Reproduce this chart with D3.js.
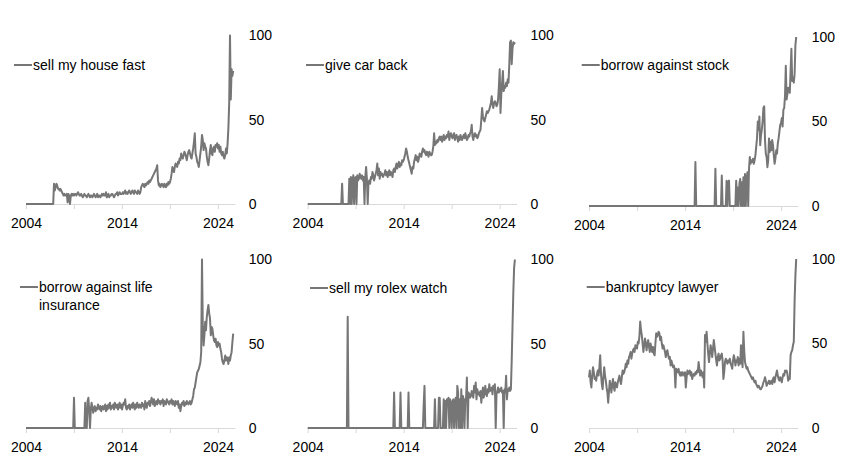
<!DOCTYPE html>
<html><head><meta charset="utf-8">
<script src="https://cdn.jsdelivr.net/npm/d3@7"></script>
<style>body{margin:0;background:#fff}</style>
</head><body><svg id="c" width="845" height="465"></svg>
<script>
// ---- data (monthly, Jan 2004 .. Aug 2025) ----
const startYear = 2004;
const yearTicks = [2004, 2009, 2014, 2019, 2024];
const yearLabels = [2004, 2014, 2024];
const valueTicks = [0, 50, 100];

const titleHouse = ["sell my house fast"];
const titleCar = ["give car back"];
const titleStock = ["borrow against stock"];
const titleLife = ["borrow against life", "insurance"];
const titleRolex = ["sell my rolex watch"];
const titleLawyer = ["bankruptcy lawyer"];

const house = [
0,0,0,0,0,0,0,0,0,0,0,0,
0,0,0,0,0,0,0,0,0,0,0,0,
0,0,0,0,0,0,0,0,0,0,0,12,
8,10,12,11,9,9,8,9,8,7,6,5,
6,5,5,6,1,6,5,0,5,6,5,6,
5,6,6,5,6,7,6,5,5,6,5,4,
5,6,5,5,4,5,6,5,4,5,5,4,
5,6,5,4,5,6,4,5,5,4,5,6,
5,6,5,5,7,4,5,6,4,5,5,6,
6,5,4,5,6,6,7,5,6,7,6,6,
6,7,6,7,8,6,7,6,7,8,7,6,
7,8,7,6,8,7,7,6,8,7,6,7,
10,11,12,11,10,12,11,12,13,12,14,13,
14,15,16,17,18,19,20,21,23,14,11,12,
10,11,12,11,10,12,11,10,12,11,13,12,
13,15,18,22,20,19,22,24,23,22,25,24,
27,26,30,28,27,29,31,30,28,26,29,31,
32,30,28,27,30,33,37,42,30,28,25,24,
22,26,30,34,41,38,32,36,34,33,28,25,
23,27,32,35,30,29,33,34,31,35,34,36,
33,35,31,34,30,29,31,28,27,29,33,30,
36,45,60,100,62,80,76,79];

const car = [
0,0,0,0,0,0,0,0,0,0,0,0,
0,0,0,0,0,0,0,0,0,0,0,0,
0,0,0,0,0,0,0,0,0,0,0,0,
0,0,0,0,0,0,0,12,0,0,0,0,
0,0,0,0,15,0,16,0,14,17,0,15,
16,0,17,14,15,18,16,15,17,14,16,0,
16,22,15,0,13,14,12,16,15,19,17,14,
16,18,20,24,17,21,15,19,17,18,16,17,
18,20,17,19,16,18,20,17,19,18,16,20,
21,19,22,24,21,23,25,22,24,23,26,25,
26,28,30,33,31,28,26,24,22,20,18,22,
21,25,27,29,26,28,25,27,30,29,28,31,
33,31,32,30,29,31,30,28,31,30,29,29,
31,34,42,35,37,36,38,37,39,40,38,40,
37,39,41,38,40,39,41,40,43,38,41,42,
40,39,41,42,38,40,41,39,37,40,38,41,
39,38,40,41,39,42,40,38,39,41,40,42,
43,47,40,38,41,42,40,41,39,40,42,43,
44,50,57,52,50,49,51,53,55,54,55,56,
58,60,64,59,57,60,61,60,58,59,62,70,
80,54,65,72,79,67,70,69,72,70,74,72,
83,96,97,83,92,96,95,96];

const stock = [
0,0,0,0,0,0,0,0,0,0,0,0,
0,0,0,0,0,0,0,0,0,0,0,0,
0,0,0,0,0,0,0,0,0,0,0,0,
0,0,0,0,0,0,0,0,0,0,0,0,
0,0,0,0,0,0,0,0,0,0,0,0,
0,0,0,0,0,0,0,0,0,0,0,0,
0,0,0,0,0,0,0,0,0,0,0,0,
0,0,0,0,0,0,0,0,0,0,0,0,
0,0,0,0,0,0,0,0,0,0,0,0,
0,0,0,0,0,0,0,0,0,0,0,0,
0,0,0,0,0,0,0,0,0,0,0,0,
0,26,0,0,0,0,0,0,0,0,0,0,
0,0,0,0,0,0,0,0,0,0,0,0,
0,0,22,0,0,0,0,0,0,0,18,0,
0,0,0,0,15,0,14,15,0,0,0,0,
0,0,0,0,15,0,11,0,13,16,0,14,
0,17,0,19,0,15,20,0,22,29,25,27,
26,28,25,27,30,35,40,50,45,53,36,42,
45,50,58,59,39,31,29,23,27,40,32,38,
33,39,36,30,25,28,33,31,37,40,44,48,
49,52,47,57,58,65,83,63,66,70,68,67,
80,93,74,76,73,78,95,100];

const life = [
0,0,0,0,0,0,0,0,0,0,0,0,
0,0,0,0,0,0,0,0,0,0,0,0,
0,0,0,0,0,0,0,0,0,0,0,0,
0,0,0,0,0,0,0,0,0,0,0,0,
0,0,0,0,0,0,0,0,0,0,0,0,
18,0,0,0,0,0,0,0,0,0,0,0,
0,0,15,0,0,16,18,10,0,11,15,12,
9,12,13,10,12,11,14,12,11,13,10,12,
13,11,12,14,10,13,11,14,12,15,11,13,
12,14,11,15,13,12,14,11,13,15,12,14,
11,13,15,14,17,12,11,13,12,14,11,13,
14,12,15,13,11,14,12,15,13,12,14,13,
12,15,13,14,11,16,13,12,15,14,16,13,
15,18,16,14,17,13,15,16,14,17,15,16,
14,16,15,17,13,16,15,14,17,16,15,14,
16,15,17,14,16,15,13,16,15,14,16,12,
14,10,13,15,14,16,13,15,14,16,15,14,
15,16,14,15,17,19,23,24,27,30,33,34,
35,37,39,45,100,60,49,55,63,58,66,70,
73,68,65,55,60,59,55,52,51,53,49,48,
51,49,50,47,45,41,39,38,40,43,40,42,
41,38,42,40,43,45,51,56];

const rolex = [
0,0,0,0,0,0,0,0,0,0,0,0,
0,0,0,0,0,0,0,0,0,0,0,0,
0,0,0,0,0,0,0,0,0,0,0,0,
0,0,0,0,0,0,0,0,0,0,0,0,
0,0,66,0,0,0,0,0,0,0,0,0,
0,0,0,0,0,0,0,0,0,0,0,0,
0,0,0,0,0,0,0,0,0,0,0,0,
0,0,0,0,0,0,0,0,0,0,0,0,
0,0,0,0,0,0,0,0,0,0,0,0,
21,0,0,0,0,0,0,0,21,0,0,0,
0,0,0,0,0,0,21,0,0,0,0,0,
0,0,0,0,0,0,0,0,0,0,0,0,
0,14,25,0,0,0,0,0,0,0,0,0,
0,0,0,17,0,0,0,0,18,18,0,0,
0,0,17,0,16,0,17,15,18,0,17,14,
0,16,17,0,15,18,0,25,21,0,17,0,
23,0,19,16,0,17,18,30,0,21,20,18,
19,22,20,18,25,21,27,17,23,20,21,19,
22,15,20,24,18,21,25,20,19,23,21,26,
22,23,24,20,25,23,26,0,20,22,24,21,
23,22,24,21,22,0,23,21,31,17,23,22,
24,22,23,40,60,80,95,100];

const lawyer = [
30,34,27,24,31,36,33,29,30,28,32,34,
31,36,43,32,26,23,30,36,31,28,24,21,
15,22,28,25,21,26,29,24,22,27,25,24,
27,29,31,28,26,30,34,32,33,35,38,36,
40,38,42,43,45,41,44,46,47,45,49,48,
47,51,50,54,63,58,55,50,45,49,53,50,
46,50,52,48,45,50,47,45,48,44,43,50,
56,54,55,57,56,52,54,50,47,49,47,45,
42,45,46,43,41,42,37,40,38,36,37,35,
24,35,34,33,35,32,31,33,31,33,32,31,
33,24,30,34,32,33,34,31,33,29,31,32,
31,33,32,34,33,39,35,31,34,32,30,33,
24,55,51,57,50,44,39,44,49,46,42,47,
52,48,44,40,37,42,44,40,41,43,44,40,
29,33,39,41,40,38,40,39,41,38,37,35,
40,43,41,37,40,39,42,37,41,38,49,40,
36,57,46,39,37,35,36,34,33,32,31,30,
29,30,28,27,28,26,25,24,25,24,23,23,
24,25,27,28,30,28,25,26,27,28,26,27,
28,26,29,30,27,30,32,34,31,29,28,30,
29,27,30,32,31,34,33,34,32,28,30,29,
43,45,46,49,51,75,90,100];

// ---- layout ----
const panels = [
  {title: titleHouse,  values: house,  x0: 26,    y0: 204,   y1: 35.5,  legX: 14,    legY: 65},
  {title: titleCar,    values: car,    x0: 307.7, y0: 204,   y1: 35.5,  legX: 306,   legY: 65},
  {title: titleStock,  values: stock,  x0: 589,   y0: 206,   y1: 37,    legX: 581.7, legY: 65},
  {title: titleLife,   values: life,   x0: 26,    y0: 428,   y1: 259.5, legX: 20,    legY: 287},
  {title: titleRolex,  values: rolex,  x0: 307.7, y0: 428,   y1: 259.5, legX: 310,   legY: 288},
  {title: titleLawyer, values: lawyer, x0: 589,   y0: 428,   y1: 259,   legX: 586.7, legY: 287}
];

const FONT = "'Liberation Sans', Arial, sans-serif";
const LINE = "#767676";
const AXIS = "#d9d9d9";
const TXT = "#000";
const svg = d3.select("#c");

panels.forEach(p => {
  const x = d3.scaleLinear().domain([2004, 2025.75]).range([p.x0, p.x0 + 208.8]);
  const y = d3.scaleLinear().domain([0, 100]).range([p.y0, p.y1]);
  const g = svg.append("g");

  // x axis
  const xa = g.append("g").attr("transform", `translate(0,${p.y0})`)
    .call(d3.axisBottom(x).tickValues(yearTicks).tickSize(5).tickSizeOuter(0).tickPadding(9)
      .tickFormat(d => yearLabels.includes(d) ? String(d) : ""));
  xa.select(".domain").attr("stroke", AXIS).attr("stroke-width", 1);
  xa.selectAll(".tick line").attr("stroke", AXIS);
  xa.selectAll("text").attr("font-family", FONT).attr("font-size", 14).attr("fill", TXT);

  // y axis (right side labels)
  const ya = g.append("g").attr("transform", `translate(${p.x0 + 208.8},0)`)
    .call(d3.axisRight(y).tickValues(valueTicks).tickSize(0).tickPadding(14));
  ya.select(".domain").remove();
  ya.selectAll("text").attr("font-family", FONT).attr("font-size", 14).attr("fill", TXT);

  // series line
  const line = d3.line()
    .x((d, i) => x(startYear + i / 12))
    .y(d => y(d));
  g.append("path").datum(p.values)
    .attr("fill", "none").attr("stroke", LINE).attr("stroke-width", 2)
    .attr("stroke-linejoin", "round")
    .attr("d", line);

  // legend
  g.append("line").attr("x1", p.legX).attr("x2", p.legX + 18)
    .attr("y1", p.legY).attr("y2", p.legY)
    .attr("stroke", LINE).attr("stroke-width", 2);
  p.title.forEach((t, k) => {
    g.append("text").attr("x", p.legX + 19).attr("y", p.legY + k * 18)
      .attr("dy", "0.35em").attr("font-family", FONT).attr("font-size", 14)
      .attr("fill", TXT).text(t);
  });
});
</script>
</body></html>
